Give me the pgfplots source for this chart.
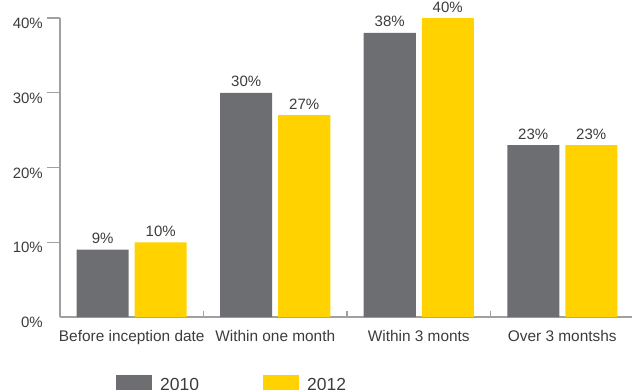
\documentclass[border=0pt]{standalone}
\usepackage{pgfplots}
\pgfplotsset{compat=1.18}
\usepackage{fontspec}
\setmainfont{Liberation Sans}
\definecolor{barGray}{HTML}{6D6E71}
\definecolor{barYellow}{HTML}{FFD200}
\definecolor{axGray}{HTML}{A0A0A3}
\definecolor{txt}{HTML}{3C3C3C}
\begin{document}
\begin{tikzpicture}
\begin{axis}[
  scale only axis,
  width=574bp, height=299bp,
  xmin=-0.5, xmax=3.5,
  ymin=0, ymax=40,
  axis lines*=left,
  axis line style={axGray, line width=1.3bp},
  tick style={axGray, line width=1.3bp},
  tick align=outside,
  major tick length=13bp,
  minor tick length=6bp,
  ybar=6bp, bar width=52bp,
  xtick={0,1,2,3},
  xticklabels={Before inception date, Within one month, Within 3 monts, Over 3 montshs},
  major x tick style={draw=none},
  minor xtick={0.5,1.5,2.5},
  minor x tick style={yshift=6bp},
  ytick={10,20,30,40},
  yticklabels={10\%,20\%,30\%,40\%},
  extra y ticks={0}, extra y tick labels={0\%},
  extra y tick style={tick style={draw=none}},
  tick label style={font=\fontsize{15bp}{18bp}\selectfont, text=txt, inner sep=0pt},
  xticklabel style={anchor=north, font=\fontsize{15.4bp}{18bp}\selectfont},
  yticklabel style={anchor=north east, xshift=-4bp},
  /pgf/number format/assume math mode=true,
  nodes near coords={\pgfmathprintnumber{\pgfplotspointmeta}\%},
  every node near coord/.append style={font=\fontsize{15bp}{18bp}\selectfont, text=txt, anchor=base, inner sep=0pt, yshift=6bp},
  legend style={at={(axis description cs:0.0976,-0.194)}, anchor=north west, draw=none, fill=none, inner sep=0pt,
    font=\fontsize{17.5bp}{20bp}\selectfont, text=txt, legend columns=2,
    /tikz/every odd column/.append style={column sep=8bp},
    /tikz/every even column/.append style={column sep=64bp},
    nodes={inner sep=0pt, yshift=4.5bp}},
  clip=false,
]
\addplot[fill=barGray, draw=none, legend image code/.code={\fill[barGray] (0bp,-8bp) rectangle (36bp,14bp);}]
  coordinates {(0,9) (1,30) (2,38) (3,23)};
\addplot[fill=barYellow, draw=none, legend image code/.code={\fill[barYellow] (0bp,-8bp) rectangle (36bp,14bp);}]
  coordinates {(0,10) (1,27) (2,40) (3,23)};
\legend{2010,2012}
\coordinate (O) at (axis cs:-0.5,0);
\end{axis}
\pgfresetboundingbox
\path ([shift={(-60bp,-73bp)}]O) rectangle ([shift={(572bp,317bp)}]O);
\end{tikzpicture}
\end{document}
